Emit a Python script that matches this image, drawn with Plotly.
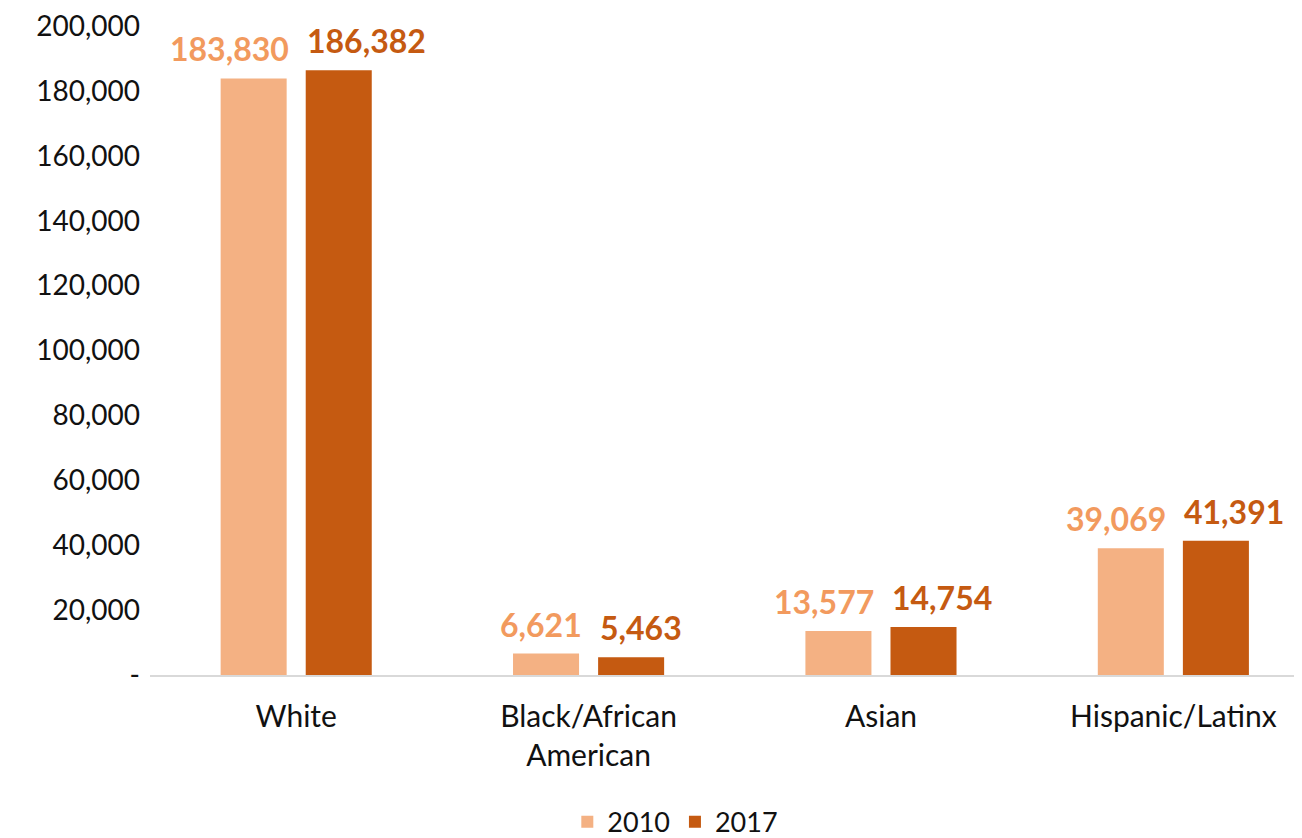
import plotly.graph_objects as go

categories = ["White", "Black/African<br>American", "Asian", "Hispanic/Latinx"]
years = ["2010", "2017"]
values_2010 = [183830, 6621, 13577, 39069]
values_2017 = [186382, 5463, 14754, 41391]
y_tickvals = [0, 20000, 40000, 60000, 80000, 100000, 120000, 140000, 160000, 180000, 200000]
y_ticktext = ["-", "20,000", "40,000", "60,000", "80,000", "100,000", "120,000",
              "140,000", "160,000", "180,000", "200,000"]

FONT = "Lato, 'Open Sans', sans-serif"
bar_colors = ["#F4B183", "#C55A11"]
label_colors = ["#F29A5E", "#C55A11"]

fig = go.Figure()
for name, vals, bc in zip(years, [values_2010, values_2017], bar_colors):
    fig.add_trace(go.Bar(
        name=name, x=categories, y=vals,
        marker=dict(color=bc, line=dict(width=0)),
        cliponaxis=False,
    ))

# value labels: 2010 right-aligned to its bar's right edge, 2017 left-aligned to its bar's left edge
for vals, lc, anchor, shift in [(values_2010, label_colors[0], "right", -5),
                                (values_2017, label_colors[1], "left", 9)]:
    for cat, v in zip(categories, vals):
        fig.add_annotation(
            x=cat, y=v, xref="x", yref="y", text=f"<b>{v:,}</b>", showarrow=False,
            xanchor=anchor, yanchor="bottom", xshift=shift, yshift=8,
            font=dict(family=FONT, size=32, color=lc),
        )

fig.update_layout(
    width=1294, height=830,
    margin=dict(l=142, r=0, t=18, b=163, autoexpand=False),
    paper_bgcolor="white", plot_bgcolor="white",
    barmode="group", bargap=0.418, bargroupgap=0.224,
    font=dict(family=FONT, size=30, color="#111111"),
    showlegend=True,
    legend=dict(orientation="h", x=0.456, xanchor="center", yref="paper",
                y=-0.227, yanchor="middle", font=dict(size=27),
                itemwidth=30, traceorder="normal"),
)
fig.update_xaxes(
    range=[-0.5, 3.44], showgrid=False, showline=True, linecolor="#D9D9D9", linewidth=2,
    ticks="", tickfont=dict(size=30, color="#111111"), ticklabelstandoff=14,
    automargin=False,
)
fig.update_yaxes(
    range=[0, 200000], tickvals=y_tickvals, ticktext=y_ticktext, showgrid=False,
    zeroline=False, showline=False, ticks="", tickfont=dict(size=28, color="#111111"),
    ticklabelstandoff=9, automargin=False, ticklabeloverflow="allow",
)

fig.write_html("out.html")
